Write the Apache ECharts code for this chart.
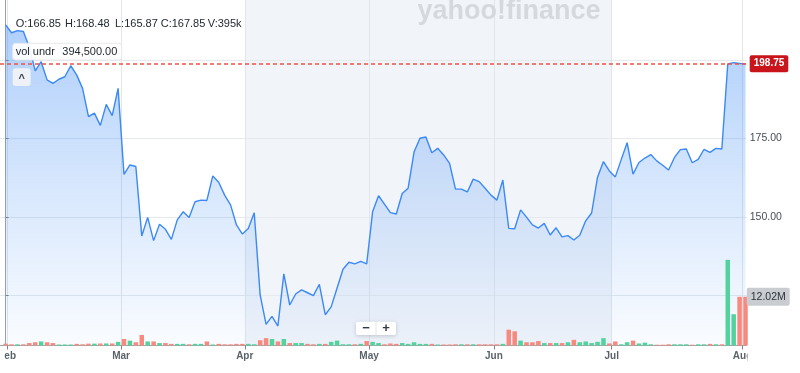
<!DOCTYPE html>
<html><head><meta charset="utf-8">
<script src="https://cdn.jsdelivr.net/npm/echarts@6/dist/echarts.min.js"></script>
<style>html,body{margin:0;padding:0;background:#fff}#c{width:800px;height:373px}</style>
</head><body><div id="c"></div>
<script>
// Daily closes (trading-day index 0..125, Feb -> early Aug)
const closes = [
211.1,208.6,209.3,209.0,204.0,196.5,199.4,193.6,192.5,193.8,
194.6,198.1,195.2,190.9,181.9,183.0,179.1,185.8,182.2,190.9,
163.5,166.5,166.0,143.9,149.8,142.4,147.6,146.0,142.8,149.0,
151.6,149.8,154.8,155.3,155.2,163.0,161.0,156.9,153.8,147.4,
144.5,146.3,151.3,125.1,115.7,118.3,115.2,131.8,121.9,125.4,
126.7,125.8,124.9,128.5,118.8,121.3,127.3,133.3,135.5,135.0,
135.8,135.0,151.6,156.7,154.0,151.3,150.9,157.4,159.1,170.6,
175.0,175.4,170.4,171.8,169.7,167.0,158.8,158.8,157.9,162.0,
161.2,159.1,156.9,155.3,161.7,146.3,146.2,152.2,149.9,147.4,
146.4,147.9,144.2,146.5,143.6,144.0,142.6,144.1,148.7,151.2,
162.6,167.6,164.6,162.7,168.2,173.6,163.6,167.3,168.7,169.8,
167.8,166.4,164.9,168.9,171.4,171.6,167.2,168.3,171.5,170.5,
171.8,171.6,198.7,199.1,198.8,198.75
];
// Daily volume, millions
const volumes = [
0.45,0.3,0.3,0.3,0.6,0.8,1.0,0.8,0.6,0.25,
0.25,0.25,0.4,0.3,0.45,0.45,0.5,0.5,0.5,0.9,
1.6,1.2,0.8,2.6,1.0,1.0,0.6,0.6,0.4,0.4,
0.4,0.3,0.4,0.4,1.0,0.25,0.4,0.3,0.3,0.4,
0.4,0.4,0.3,1.3,1.8,1.6,1.0,1.6,0.6,0.6,
0.6,0.4,0.3,0.4,0.4,0.9,1.2,0.3,0.3,0.3,
0.4,1.1,0.9,0.6,0.3,0.5,0.4,0.6,0.4,0.8,
0.4,0.4,0.4,0.25,0.25,0.25,0.3,0.3,0.3,0.3,
0.3,0.3,0.3,0.3,0.4,3.9,3.5,1.2,0.8,0.8,
1.1,0.6,0.6,0.6,0.6,0.8,1.4,0.8,1.0,0.6,
0.9,1.8,0.5,1.0,0.3,0.8,1.2,0.5,0.7,0.3,
0.2,0.2,0.3,0.3,0.3,0.3,0.2,0.3,0.3,0.4,
0.3,0.3,21.1,7.7,12.0,12.02
];
const monthTicks = [0.25, 19.5, 40.4, 61.4, 82.5, 102.4, 124.5];
const monthLabels = ['Feb','Mar','Apr','May','Jun','Jul','Aug'];
const shadeRange = [40.4, 102.4];
const priceLabelValues = [150, 175];
const lastClose = 198.75;
const lastVolume = 12.02;
const headerItems = ['O:166.85','H:168.48','L:165.87','C:167.85','V:395k'];
const studyName = 'vol undr';
const studyValue = '394,500.00';
const watermark = 'yahoo!finance';

const FONT = '"Liberation Sans", Arial, sans-serif';
const UP = '#52d29c', DOWN = '#f8897e';

const priceData = closes.map((v, i) => [i, v]);
const volData = volumes.map((v, i) => [i, v]);
const headerX = [15.7, 65, 115, 160.7, 207.7];

const chart = echarts.init(document.getElementById('c'), null, {renderer: 'canvas'});
chart.setOption({
  animation: false,
  textStyle: {fontFamily: FONT},
  grid: {left: 0, right: 53.3, top: 0, bottom: 27.5, outerBoundsMode: 'none'},
  xAxis: {
    type: 'value', min: -0.95, max: 125.2, z: 1,
    axisLine: {show: true, lineStyle: {color: '#9fa5ab', width: 1}},
    axisTick: {show: true, length: 4, customValues: monthTicks, lineStyle: {color: '#7d848b'}},
    axisLabel: {
      customValues: monthTicks, margin: 6, fontSize: 10, fontWeight: 'bold', color: '#5b636a',
      formatter: v => { const k = monthTicks.indexOf(v); return k >= 0 ? monthLabels[k] : ''; }
    },
    splitLine: {show: true, lineStyle: {color: '#e2e6ea', width: 1}}
  },
  yAxis: [{
    type: 'value', position: 'right', min: 109.0, max: 219.04, minInterval: 25, maxInterval: 25, z: 1,
    axisLine: {show: true, lineStyle: {color: '#9aa0a6'}},
    axisTick: {show: true, length: 3, lineStyle: {color: '#7d848b'}},
    axisLabel: {
      margin: 3, fontSize: 10.5, color: '#464d55', showMinLabel: false, showMaxLabel: false,
      formatter: v => priceLabelValues.indexOf(v) >= 0 ? v.toFixed(2) : ''
    },
    splitLine: {show: true, showMinLine: false, showMaxLine: false, lineStyle: {color: '#e6e9ed'}}
  }, {
    type: 'value', min: 0, max: 85.1, show: false, splitLine: {show: false}
  }],
  series: [{
    type: 'line', name: 'price', data: priceData, z: 2,
    showSymbol: false, symbol: 'none',
    lineStyle: {color: '#3b89f5', width: 1.4},
    areaStyle: {
      origin: 'start',
      color: {type: 'linear', x: 0, y: 0, x2: 0, y2: 1, colorStops: [
        {offset: 0, color: 'rgba(64,141,246,0.60)'},
        {offset: 0.5, color: 'rgba(64,141,246,0.30)'},
        {offset: 1, color: 'rgba(64,141,246,0.04)'}
      ]}
    },
    markArea: {
      silent: true, z: 0,
      itemStyle: {color: '#f1f4f9'},
      data: [[{xAxis: shadeRange[0]}, {xAxis: shadeRange[1]}]]
    }
  }, {
    type: 'line', name: 'last', data: [], z: 4, silent: true,
    markLine: {
      silent: true, symbol: 'none',
      lineStyle: {color: '#ef5247', type: [4, 3], width: 1.6},
      label: {
        show: true, position: 'end', distance: 3,
        formatter: p => p.value.toFixed(2),
        backgroundColor: '#c8141a', color: '#fff', padding: [4, 4, 3, 4], borderRadius: 2,
        fontSize: 10, fontWeight: 'bold', fontFamily: FONT
      },
      data: [{yAxis: lastClose}]
    }
  }, {
    type: 'bar', name: 'volume', yAxisIndex: 1, data: volData, barWidth: 4.5, z: 3,
    itemStyle: {
      color: p => {
        const i = p.dataIndex;
        return (i > 0 && closes[i] >= closes[i - 1]) ? UP : DOWN;
      }
    },
    markLine: {
      silent: true, symbol: 'none', z: 5,
      lineStyle: {color: 'rgba(0,0,0,0)', width: 1, type: 'solid'},
      label: {
        show: true, position: 'end', distance: 0,
        formatter: p => p.value.toFixed(2) + 'M',
        backgroundColor: '#c9cdd2', color: '#2c3238', padding: [4, 4, 3, 4], borderRadius: 2,
        fontSize: 10.5, fontFamily: FONT
      },
      data: [{yAxis: lastVolume}]
    }
  }],
  graphic: [
    {type: 'text', x: 509, y: 12, z: 10, style: {text: watermark, align: 'center', verticalAlign: 'middle',
      font: 'bold 27px ' + FONT, fill: '#d5d9de'}},
    ...headerItems.map((t, k) => ({type: 'text', x: headerX[k], y: 24, z: 10,
      style: {text: t, verticalAlign: 'middle', font: '11px ' + FONT, fill: '#232a31'}})),
    {type: 'rect', z: 10, shape: {x: 12.7, y: 43.3, width: 109, height: 16.7, r: 3},
      style: {fill: 'rgba(255,255,255,0.92)', stroke: '#e6e9ec', lineWidth: 1}},
    {type: 'text', x: 15.7, y: 52, z: 11, style: {text: studyName, verticalAlign: 'middle', font: '11px ' + FONT, fill: '#232a31'}},
    {type: 'text', x: 62.3, y: 52, z: 11, style: {text: studyValue, verticalAlign: 'middle', font: '11px ' + FONT, fill: '#232a31'}},
    {type: 'rect', z: 10, shape: {x: 12.7, y: 68.3, width: 18, height: 17.7, r: 3},
      style: {fill: '#eef1f5'}},
    {type: 'text', x: 21.7, y: 79, z: 11, style: {text: '^', align: 'center', verticalAlign: 'middle', font: 'bold 11px ' + FONT, fill: '#3b4148'}},
    {type: 'rect', z: 10, shape: {x: 356, y: 321.7, width: 40, height: 13.3, r: 2},
      style: {fill: '#ffffff', shadowBlur: 4, shadowColor: 'rgba(0,0,0,0.18)', shadowOffsetY: 1}},
    {type: 'line', z: 11, shape: {x1: 376, y1: 322, x2: 376, y2: 335}, style: {stroke: '#e3e6e9', lineWidth: 1}},
    {type: 'text', x: 366, y: 328.5, z: 11, style: {text: '−', align: 'center', verticalAlign: 'middle', font: 'bold 13px ' + FONT, fill: '#333a40'}},
    {type: 'text', x: 386, y: 328.5, z: 11, style: {text: '+', align: 'center', verticalAlign: 'middle', font: 'bold 13px ' + FONT, fill: '#333a40'}},
    // canvas-edge clipping of the first and last month labels, as in the source screenshot
    {type: 'rect', z: 20, shape: {x: 0, y: 348, width: 4.5, height: 22}, style: {fill: '#ffffff'}},
    {type: 'rect', z: 20, shape: {x: 747.5, y: 348, width: 12, height: 22}, style: {fill: '#ffffff'}}
  ]
});
</script></body></html>
